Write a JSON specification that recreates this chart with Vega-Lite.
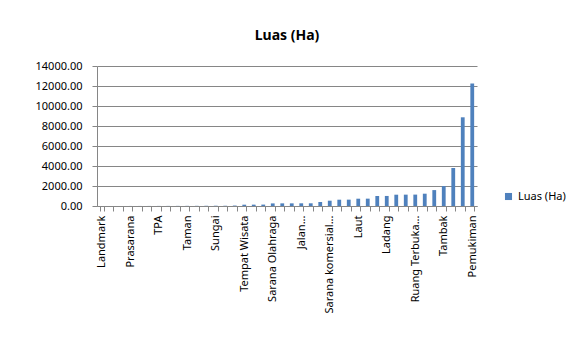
{
  "$schema": "https://vega.github.io/schema/vega-lite/v6.json",
  "autosize": "none",
  "width": 380,
  "height": 140,
  "padding": {"left": 97, "top": 66, "right": 99, "bottom": 132},
  "background": "white",
  "title": {"text": "Luas (Ha)", "font": "Noto Sans", "fontSize": 14, "fontWeight": "bold", "color": "#000000", "anchor": "middle", "offset": 17},
  "data": {"values": [
    {"kategori": "Landmark", "luas": 1},
    {"kategori": "Kategori 2", "luas": 2},
    {"kategori": "Kategori 3", "luas": 3},
    {"kategori": "Prasarana", "luas": 4},
    {"kategori": "Kategori 5", "luas": 5},
    {"kategori": "Kategori 6", "luas": 6},
    {"kategori": "TPA", "luas": 8},
    {"kategori": "Kategori 8", "luas": 10},
    {"kategori": "Kategori 9", "luas": 12},
    {"kategori": "Taman", "luas": 15},
    {"kategori": "Kategori 11", "luas": 18},
    {"kategori": "Kategori 12", "luas": 22},
    {"kategori": "Sungai", "luas": 28},
    {"kategori": "Kategori 14", "luas": 35},
    {"kategori": "Kategori 15", "luas": 45},
    {"kategori": "Tempat Wisata", "luas": 130},
    {"kategori": "Kategori 17", "luas": 135},
    {"kategori": "Kategori 18", "luas": 140},
    {"kategori": "Sarana Olahraga", "luas": 260},
    {"kategori": "Kategori 20", "luas": 265},
    {"kategori": "Kategori 21", "luas": 265},
    {"kategori": "Jalan...", "luas": 270},
    {"kategori": "Kategori 23", "luas": 270},
    {"kategori": "Kategori 24", "luas": 400},
    {"kategori": "Sarana komersial...", "luas": 530},
    {"kategori": "Kategori 26", "luas": 630},
    {"kategori": "Kategori 27", "luas": 635},
    {"kategori": "Laut", "luas": 730},
    {"kategori": "Kategori 29", "luas": 735},
    {"kategori": "Kategori 30", "luas": 1000},
    {"kategori": "Ladang", "luas": 1005},
    {"kategori": "Kategori 32", "luas": 1130},
    {"kategori": "Kategori 33", "luas": 1135},
    {"kategori": "Ruang Terbuka...", "luas": 1140},
    {"kategori": "Kategori 35", "luas": 1230},
    {"kategori": "Kategori 36", "luas": 1590},
    {"kategori": "Tambak", "luas": 1990},
    {"kategori": "Kategori 38", "luas": 3800},
    {"kategori": "Kategori 39", "luas": 8870},
    {"kategori": "Pemukiman", "luas": 12250}
  ]},
  "mark": {"type": "bar"},
  "encoding": {
    "x": {
      "field": "kategori", "type": "nominal", "sort": null,
      "scale": {"paddingInner": 0.6, "paddingOuter": 0.3},
      "axis": {
        "title": null, "labelAngle": -90, "labelFont": "Noto Sans", "labelFontSize": 11, "labelColor": "#000000",
        "labelExpr": "indexof(['Landmark','Prasarana','TPA','Taman','Sungai','Tempat Wisata','Sarana Olahraga','Jalan...','Sarana komersial...','Laut','Ladang','Ruang Terbuka...','Tambak','Pemukiman'], datum.value) >= 0 ? datum.label : ''",
        "labelOverlap": false, "labelLimit": 200, "labelPadding": 4,
        "tickBand": "extent", "tickColor": "#868686", "tickSize": 5, "domainColor": "#868686", "grid": false
      }
    },
    "y": {
      "field": "luas", "type": "quantitative",
      "scale": {"domain": [0, 14000], "nice": false},
      "axis": {
        "title": null, "values": [0, 2000, 4000, 6000, 8000, 10000, 12000, 14000], "format": ".2f",
        "labelFont": "Noto Sans", "labelFontSize": 11, "labelColor": "#000000", "labelPadding": 10,
        "tickColor": "#868686", "tickSize": 5, "domainColor": "#868686", "gridColor": "#868686", "grid": true
      }
    },
    "color": {
      "datum": "Luas (Ha)", "type": "nominal",
      "scale": {"range": ["#4F81BD"]},
      "legend": {"title": null, "orient": "none", "legendX": 406, "legendY": 125, "symbolType": "square", "symbolSize": 50, "labelFont": "Noto Sans", "labelFontSize": 11, "labelColor": "#000000"}
    }
  },
  "config": {"view": {"stroke": null}}
}
